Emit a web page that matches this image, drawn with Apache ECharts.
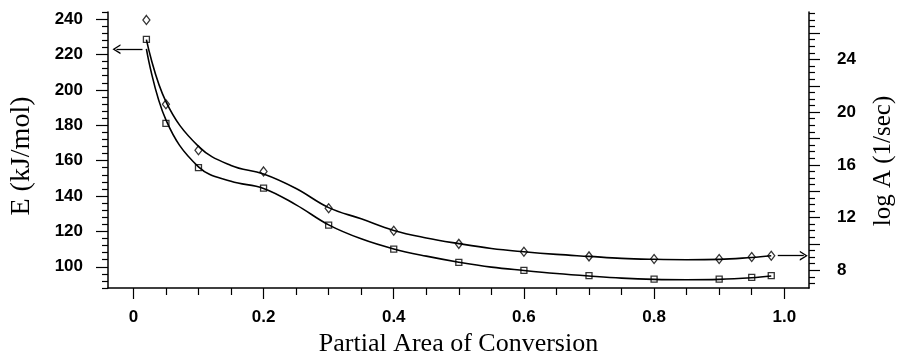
<!DOCTYPE html>
<html>
<head>
<meta charset="utf-8">
<script src="https://cdn.jsdelivr.net/npm/echarts@6/dist/echarts.min.js"></script>
<style>
  html, body { margin: 0; padding: 0; background: #fff; }
  #chart { width: 904px; height: 362px; }
</style>
</head>
<body>
<div id="chart"></div>
<script>
// measured points
var xPts = [0.02, 0.05, 0.1, 0.2, 0.3, 0.4, 0.5, 0.6, 0.7, 0.8, 0.9, 0.95, 0.98];
var ePts = [228.5, 181, 156, 144.5, 123.5, 110, 102.5, 98, 95, 93, 93, 94, 95];
var logAPts = [27.0, 20.6, 17.1, 15.5, 12.7, 11.0, 10.0, 9.4, 9.05, 8.85, 8.85, 9.0, 9.1];

// fitted curves
var xFit = [0.02, 0.05, 0.1, 0.15, 0.2, 0.25, 0.3, 0.35, 0.4, 0.45, 0.5, 0.55, 0.6, 0.65, 0.7, 0.75, 0.8, 0.85, 0.9, 0.95, 0.98];
var eFit = [223.2, 183, 156.5, 148.3, 144.3, 135, 123.7, 115.8, 110.1, 106, 102.6, 99.8, 97.9, 96.2, 94.8, 93.6, 92.9, 92.7, 92.9, 93.8, 94.8];
var logAFit = [25.5, 20.8, 17.4, 15.95, 15.3, 14.2, 12.75, 11.9, 11.02, 10.45, 10.02, 9.65, 9.4, 9.2, 9.05, 8.9, 8.83, 8.8, 8.82, 8.97, 9.1];

// axes
var xTicks = [0, 0.2, 0.4, 0.6, 0.8, 1.0];
var xMinor = [0.05, 0.1, 0.15, 0.25, 0.3, 0.35, 0.45, 0.5, 0.55, 0.65, 0.7, 0.75, 0.85, 0.9, 0.95];
var eTicks = [100, 120, 140, 160, 180, 200, 220, 240];
var eMinor = [];
for (var v = 88; v <= 244; v += 4) if (v % 20 != 0) eMinor.push(v);
var aLabels = [8, 12, 16, 20, 24];
var aTicks = [8, 10, 12, 14, 16, 18, 20, 22, 24, 26];
var aMinor = [];
for (var w = 7; w <= 27.5; w += 0.5) if (w % 2 != 0) aMinor.push(w);

// arrows: [x from, x to, value]
var eArrow = [0.014, -0.026, 223];
var aArrow = [0.99, 1.03, 9.1];

function pairs(xs, ys) {
    return xs.map(function (x, i) { return [x, ys[i]]; });
}

var chevron = 'path://M5,0 L10,9 L8.4,9 L5,2.6 L1.6,9 L0,9 Z';
var black = '#000';
var tickFont = { color: black, fontFamily: 'Liberation Sans', fontWeight: 'bold', fontSize: 17 };

var chart = echarts.init(document.getElementById('chart'));
chart.setOption({
    animation: false,
    backgroundColor: '#fff',
    grid: { left: 106, right: 89, top: 12, bottom: 72 },
    xAxis: [{
        type: 'value', min: -0.039, max: 1.038,
        name: 'Partial Area of Conversion', nameLocation: 'middle', nameGap: 43,
        nameTextStyle: { color: black, fontFamily: 'Liberation Serif', fontSize: 26 },
        axisLine: { onZero: false, lineStyle: { color: black, width: 1.5 } },
        axisTick: { customValues: xTicks, length: 11, lineStyle: { color: black, width: 1.2 } },
        axisLabel: Object.assign({
            customValues: xTicks, margin: 21,
            formatter: function (v) { return v == 0 ? '0' : v.toFixed(1); }
        }, tickFont),
        splitLine: { show: false }
    }, {
        type: 'value', min: -0.039, max: 1.038, position: 'bottom',
        axisLine: { show: false, onZero: false },
        axisTick: { customValues: xMinor, length: 7, lineStyle: { color: black, width: 1.2 } },
        axisLabel: { show: false },
        splitLine: { show: false }
    }],
    yAxis: [{
        type: 'value', min: 88, max: 244, position: 'left',
        name: 'E (kJ/mol)', nameLocation: 'middle', nameGap: 72,
        nameTextStyle: { color: black, fontFamily: 'Liberation Serif', fontSize: 28, padding: [0, 12, 0, 0] },
        axisLine: { show: true, onZero: false, lineStyle: { color: black, width: 1.5 } },
        axisTick: { show: true, customValues: eTicks, length: 12, lineStyle: { color: black, width: 1.2 } },
        axisLabel: Object.assign({ customValues: eTicks, margin: 25 }, tickFont),
        splitLine: { show: false }
    }, {
        type: 'value', min: 6.65, max: 27.6, position: 'right',
        name: 'log A (1/sec)', nameLocation: 'middle', nameGap: 62,
        nameTextStyle: { color: black, fontFamily: 'Liberation Serif', fontSize: 25, padding: [0, 22, 0, 0] },
        axisLine: { show: true, onZero: false, lineStyle: { color: black, width: 1.5 } },
        axisTick: { show: true, customValues: aTicks, length: 11, lineStyle: { color: black, width: 1.2 } },
        axisLabel: Object.assign({ customValues: aLabels, margin: 28 }, tickFont),
        splitLine: { show: false }
    }, {
        type: 'value', min: 88, max: 244, position: 'left',
        axisLine: { show: false, onZero: false },
        axisTick: { show: true, customValues: eMinor, length: 6, lineStyle: { color: black, width: 1.2 } },
        axisLabel: { show: false },
        splitLine: { show: false }
    }, {
        type: 'value', min: 6.65, max: 27.6, position: 'right',
        axisLine: { show: false, onZero: false },
        axisTick: { show: true, customValues: aMinor, length: 6, lineStyle: { color: black, width: 1.2 } },
        axisLabel: { show: false },
        splitLine: { show: false }
    }],
    series: [{
        name: 'E fit', type: 'line', yAxisIndex: 0,
        data: pairs(xFit, eFit),
        smooth: 0.4, showSymbol: false,
        lineStyle: { color: black, width: 1.6 },
        markLine: {
            silent: true, symbol: ['none', chevron], symbolSize: [10, 8],
            label: { show: false },
            lineStyle: { color: black, width: 1.3, type: 'solid' },
            data: [[{ coord: [eArrow[0], eArrow[2]] }, { coord: [eArrow[1], eArrow[2]] }]]
        }
    }, {
        name: 'log A fit', type: 'line', yAxisIndex: 1,
        data: pairs(xFit, logAFit),
        smooth: 0.4, showSymbol: false,
        lineStyle: { color: black, width: 1.6 },
        markLine: {
            silent: true, symbol: ['none', chevron], symbolSize: [10, 8],
            label: { show: false },
            lineStyle: { color: black, width: 1.3, type: 'solid' },
            data: [[{ coord: [aArrow[0], aArrow[2]] }, { coord: [aArrow[1], aArrow[2]] }]]
        }
    }, {
        name: 'E', type: 'scatter', yAxisIndex: 0,
        data: pairs(xPts, ePts),
        symbol: 'rect', symbolSize: 6,
        itemStyle: { color: 'transparent', borderColor: black, borderWidth: 1.3 }
    }, {
        name: 'log A', type: 'scatter', yAxisIndex: 1,
        data: pairs(xPts, logAPts),
        symbol: 'diamond', symbolSize: [7, 9],
        itemStyle: { color: 'transparent', borderColor: black, borderWidth: 1.3 }
    }]
});
</script>
</body>
</html>
